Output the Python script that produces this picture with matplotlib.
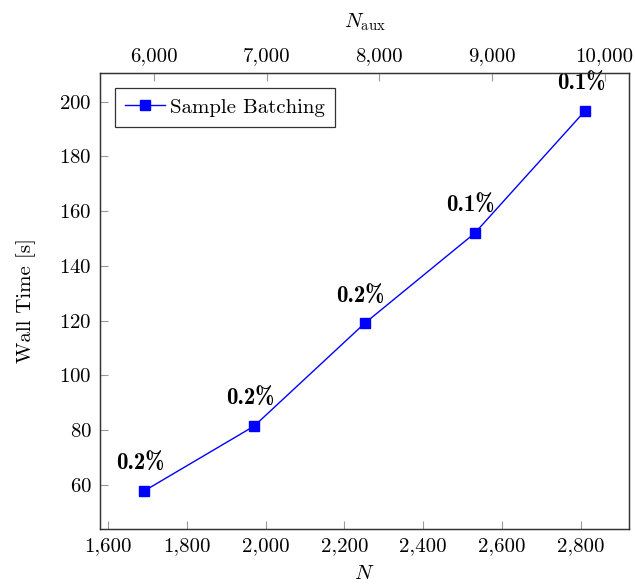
import matplotlib
matplotlib.use("Agg")
import matplotlib.pyplot as plt
from matplotlib.ticker import MultipleLocator, FuncFormatter

N = [1692, 1971, 2251, 2530, 2810]
N_aux = [5912, 6890, 7868, 8846, 9824]
wall_time = [57.8, 81.5, 119.0, 151.9, 196.6]
labels = ["0.2%", "0.2%", "0.2%", "0.1%", "0.1%"]
series_name = "Sample Batching"

plt.rcParams["font.family"] = "serif"
plt.rcParams["font.serif"] = ["cmr10"]
plt.rcParams["mathtext.fontset"] = "cm"
plt.rcParams["axes.formatter.use_mathtext"] = True
plt.rcParams["axes.unicode_minus"] = False

FS = 15

fig = plt.figure(figsize=(6.35, 5.86), dpi=100)
ax = fig.add_axes([0.1575, 0.0973, 0.8331, 0.7781])

ax.plot(N, wall_time, color="#0000ff", lw=1.0, marker="s", ms=7.5,
        mec="#0000ff", mfc="#0000ff", label=series_name)
ax.margins(x=0.1, y=0.1)

for xv, yv, t in zip(N, wall_time, labels):
    ax.annotate(t, (xv, yv), xytext=(-4, 27), textcoords="offset pixels",
                ha="center", va="center", fontsize=16.5, family="cmb10")

ax.xaxis.set_major_locator(MultipleLocator(200))
ax.yaxis.set_major_locator(MultipleLocator(20))
fmt = FuncFormatter(lambda v, p: f"{v:,.0f}")
ax.xaxis.set_major_formatter(fmt)

ax.tick_params(axis="both", direction="in", length=6, width=0.8,
               color="#999999", labelsize=FS, pad=6)
ax.tick_params(axis="y", right=False)
ax.tick_params(axis="x", top=False)
for s in ax.spines.values():
    s.set_linewidth(0.9)
    s.set_color("#333333")

ax.set_xlabel(r"$N$", fontsize=FS, labelpad=7)
ax.set_ylabel("Wall Time [s]", fontsize=FS, labelpad=17)

ax2 = ax.twiny()
ax2.plot(N_aux, wall_time, alpha=0)
ax2.margins(x=0.1)
ax2.xaxis.set_major_locator(MultipleLocator(1000))
ax2.xaxis.set_major_formatter(fmt)
ax2.tick_params(axis="x", direction="in", length=6, width=0.8,
                color="#999999", labelsize=FS, pad=6)
ax2.set_xlabel(r"$N_{\mathrm{aux}}$", fontsize=FS, labelpad=14)
for s in ax2.spines.values():
    s.set_linewidth(0.9)
    s.set_color("#333333")

leg = ax.legend(loc="upper left", fontsize=FS, frameon=True, fancybox=False,
                edgecolor="black", borderpad=0.5, handlelength=1.9,
                handletextpad=0.25, borderaxespad=0.7)
leg.get_frame().set_linewidth(0.9)

fig.savefig("out.png", dpi=100)
